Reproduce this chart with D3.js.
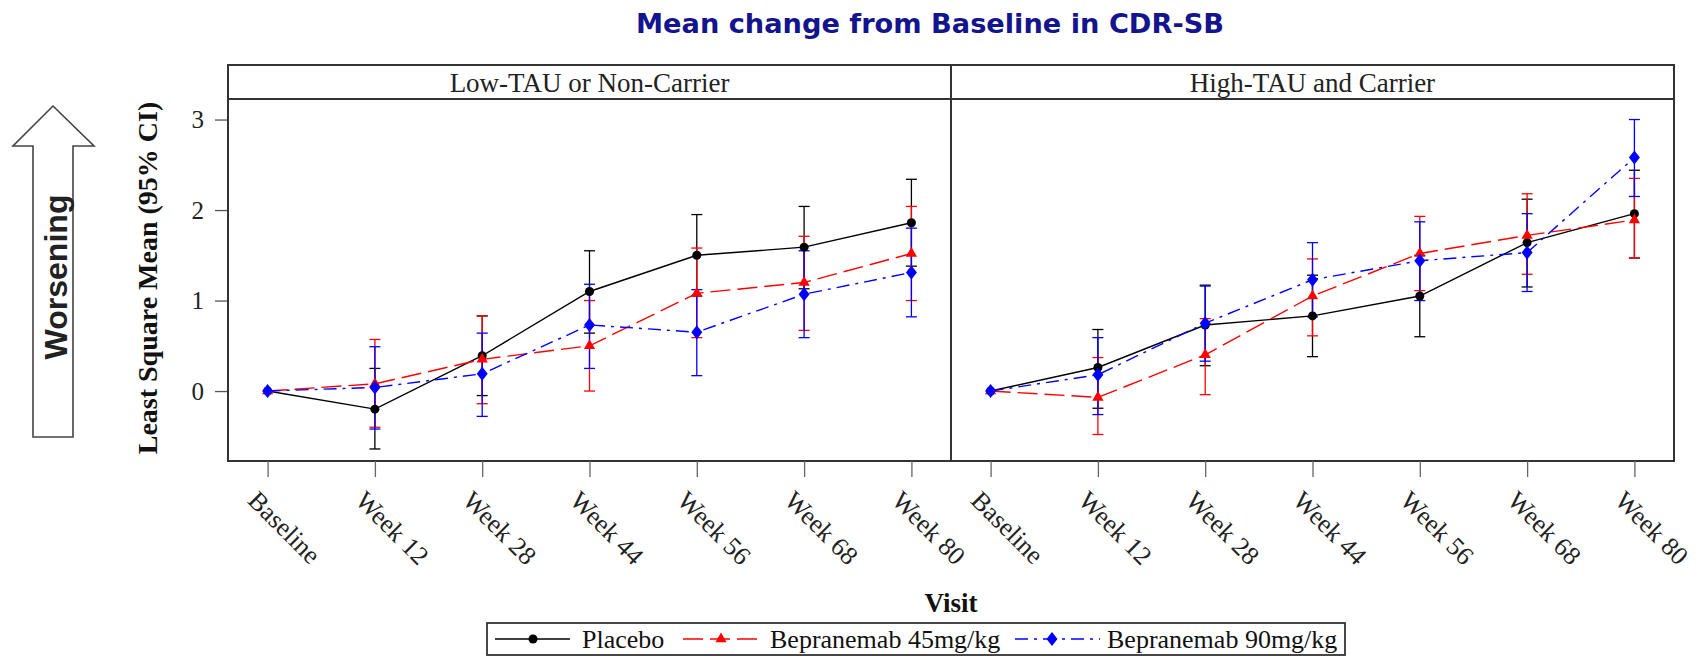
<!DOCTYPE html>
<html>
<head>
<meta charset="utf-8">
<script src="https://cdn.jsdelivr.net/npm/d3@7"></script>
<style>
  html, body { margin: 0; padding: 0; background: #fff; }
  svg { display: block; }
</style>
</head>
<body>
<svg id="chart" width="1701" height="660"></svg>
<script>
// ---------------- DATA ----------------
const visits = ["Baseline", "Week 12", "Week 28", "Week 44", "Week 56", "Week 68", "Week 80"];
const panelTitles = ["Low-TAU or Non-Carrier", "High-TAU and Carrier"];
const seriesNames = ["Placebo", "Bepranemab 45mg/kg", "Bepranemab 90mg/kg"];
const yTickValues = [0, 1, 2, 3];

// Panel 1: Low-TAU or Non-Carrier
const lowPlaceboMean = [0, -0.20, 0.39, 1.10, 1.50, 1.59, 1.86];
const lowPlaceboLo   = [0, -0.64, -0.05, 0.64, 1.05, 1.13, 1.38];
const lowPlaceboHi   = [0, 0.25, 0.83, 1.55, 1.95, 2.04, 2.34];
const low45Mean = [0, 0.08, 0.35, 0.50, 1.08, 1.20, 1.52];
const low45Lo   = [0, -0.40, -0.14, 0.00, 0.59, 0.67, 1.00];
const low45Hi   = [0, 0.57, 0.83, 1.00, 1.58, 1.71, 2.04];
const low90Mean = [0, 0.04, 0.19, 0.73, 0.65, 1.07, 1.31];
const low90Lo   = [0, -0.42, -0.28, 0.25, 0.17, 0.59, 0.82];
const low90Hi   = [0, 0.49, 0.64, 1.18, 1.12, 1.55, 1.80];

// Panel 2: High-TAU and Carrier
const highPlaceboMean = [0, 0.26, 0.73, 0.83, 1.05, 1.64, 1.96];
const highPlaceboLo   = [0, -0.19, 0.28, 0.38, 0.60, 1.15, 1.47];
const highPlaceboHi   = [0, 0.68, 1.17, 1.28, 1.50, 2.12, 2.44];
const high45Mean = [0, -0.07, 0.40, 1.05, 1.52, 1.72, 1.89];
const high45Lo   = [0, -0.48, -0.04, 0.61, 1.11, 1.29, 1.47];
const high45Hi   = [0, 0.37, 0.80, 1.46, 1.93, 2.18, 2.35];
const high90Mean = [0, 0.18, 0.75, 1.23, 1.44, 1.53, 2.58];
const high90Lo   = [0, -0.26, 0.33, 0.82, 1.00, 1.10, 2.15];
const high90Hi   = [0, 0.59, 1.16, 1.64, 1.87, 1.96, 3.00];

// ---------------- STYLE ----------------
const seriesStyle = [
  { color: "#000000", dash: null,        marker: "circle" },
  { color: "#ff0000", dash: "20,7",      marker: "triangle" },
  { color: "#0000ff", dash: "13,6,3,6",  marker: "diamond" }
];

const panelData = [
  [
    { mean: lowPlaceboMean, lo: lowPlaceboLo, hi: lowPlaceboHi },
    { mean: low45Mean, lo: low45Lo, hi: low45Hi },
    { mean: low90Mean, lo: low90Lo, hi: low90Hi }
  ],
  [
    { mean: highPlaceboMean, lo: highPlaceboLo, hi: highPlaceboHi },
    { mean: high45Mean, lo: high45Lo, hi: high45Hi },
    { mean: high90Mean, lo: high90Lo, hi: high90Hi }
  ]
];

const svg = d3.select("#chart");
const serif = "'Liberation Serif', 'Times New Roman', serif";

// layout
const plotLeft = 228, plotRight = 1674, divider = 951;
const stripTop = 65, plotTop = 99, plotBottom = 461;
const panelX = [[plotLeft, divider], [divider, plotRight]];

const y = d3.scaleLinear().domain([-0.773, 3.227]).range([plotBottom, plotTop]);

// Title
svg.append("text")
  .attr("x", 930).attr("y", 33)
  .attr("text-anchor", "middle")
  .attr("font-family", "'DejaVu Sans', Verdana, sans-serif")
  .attr("font-weight", "bold")
  .attr("font-size", 27)
  .attr("textLength", 588)
  .attr("lengthAdjust", "spacingAndGlyphs")
  .attr("fill", "#14148c")
  .text("Mean change from Baseline in CDR-SB");

// Worsening arrow
const arrowPts = [[53,106],[94,146],[73,146],[73,437],[33,437],[33,146],[13,146]];
svg.append("polygon")
  .attr("points", arrowPts.map(p => p.join(",")).join(" "))
  .attr("fill", "#fff").attr("stroke", "#444").attr("stroke-width", 1.6);
svg.append("text")
  .attr("transform", "translate(67,277) rotate(-90)")
  .attr("text-anchor", "middle")
  .attr("font-family", "'Liberation Sans', Arial, sans-serif")
  .attr("font-weight", "bold")
  .attr("font-size", 32)
  .attr("textLength", 165)
  .attr("lengthAdjust", "spacingAndGlyphs")
  .attr("fill", "#222")
  .text("Worsening");

// Y label
svg.append("text")
  .attr("transform", "translate(157,278) rotate(-90)")
  .attr("text-anchor", "middle")
  .attr("font-family", serif)
  .attr("font-weight", "bold")
  .attr("font-size", 28)
  .attr("fill", "#111")
  .text("Least Square Mean (95% CI)");

// Y axis
const yAxis = d3.axisLeft(y).tickValues(yTickValues).tickSize(13).tickPadding(11).tickFormat(d3.format("d"));
const yg = svg.append("g").attr("transform", `translate(${plotLeft},0)`).call(yAxis);
yg.select(".domain").remove();
yg.selectAll(".tick line").attr("stroke", "#555").attr("stroke-width", 1.3);
yg.selectAll(".tick text").attr("font-family", serif).attr("font-size", 25).attr("fill", "#222");

// Panels
panelTitles.forEach((title, pi) => {
  const [x0, x1] = panelX[pi];
  const x = d3.scalePoint().domain(visits).range([x0, x1]).padding(0.369);

  // strip
  svg.append("rect").attr("x", x0).attr("y", stripTop).attr("width", x1 - x0).attr("height", plotTop - stripTop)
    .attr("fill", "#fff").attr("stroke", "#333").attr("stroke-width", 2);
  svg.append("text")
    .attr("x", (x0 + x1) / 2).attr("y", 92)
    .attr("text-anchor", "middle")
    .attr("font-family", serif).attr("font-size", 27).attr("fill", "#222")
    .text(title);

  // plot frame
  svg.append("rect").attr("x", x0).attr("y", plotTop).attr("width", x1 - x0).attr("height", plotBottom - plotTop)
    .attr("fill", "none").attr("stroke", "#333").attr("stroke-width", 2);

  // x axis
  const xAxis = d3.axisBottom(x).tickSize(16).tickFormat("");
  const xg = svg.append("g").attr("transform", `translate(0,${plotBottom})`).call(xAxis);
  xg.select(".domain").remove();
  xg.selectAll(".tick line").attr("stroke", "#666").attr("stroke-width", 1.3);
  svg.append("g").selectAll("text").data(visits).join("text")
    .attr("transform", d => `translate(${x(d) - 21},502) rotate(45)`)
    .attr("font-family", serif).attr("font-size", 26).attr("fill", "#222")
    .text(d => d);

  const g = svg.append("g");
  const series = panelData[pi];

  // error bars
  series.forEach((s, si) => {
    const st = seriesStyle[si];
    const rows = visits.map((v, i) => ({ v, lo: s.lo[i], hi: s.hi[i] })).filter(r => r.hi > r.lo);
    const eb = g.append("g").attr("stroke", st.color).attr("stroke-width", 1.3).attr("fill", "none");
    eb.selectAll("line.v").data(rows).join("line").attr("class", "v")
      .attr("x1", r => x(r.v)).attr("x2", r => x(r.v)).attr("y1", r => y(r.lo)).attr("y2", r => y(r.hi));
    eb.selectAll("line.t").data(rows).join("line").attr("class", "t")
      .attr("x1", r => x(r.v) - 5.5).attr("x2", r => x(r.v) + 5.5).attr("y1", r => y(r.hi)).attr("y2", r => y(r.hi));
    eb.selectAll("line.b").data(rows).join("line").attr("class", "b")
      .attr("x1", r => x(r.v) - 5.5).attr("x2", r => x(r.v) + 5.5).attr("y1", r => y(r.lo)).attr("y2", r => y(r.lo));
  });

  // lines
  series.forEach((s, si) => {
    const st = seriesStyle[si];
    const line = d3.line().x((d, i) => x(visits[i])).y(d => y(d));
    g.append("path").datum(s.mean).attr("d", line)
      .attr("fill", "none").attr("stroke", st.color).attr("stroke-width", 1.4)
      .attr("stroke-dasharray", st.dash);
  });

  // markers
  series.forEach((s, si) => {
    const st = seriesStyle[si];
    drawMarkers(g, st, s.mean.map((m, i) => [x(visits[i]), y(m)]));
  });
});

function markerPath(type) {
  if (type === "circle") return d3.symbol(d3.symbolCircle, 64)();
  if (type === "triangle") return d3.symbol(d3.symbolTriangle, 55)();
  return "M0,-7L5.5,0L0,7L-5.5,0Z";
}
function drawMarkers(g, st, pts) {
  g.append("g").selectAll("path").data(pts).join("path")
    .attr("transform", p => `translate(${p[0]},${p[1]})`)
    .attr("d", markerPath(st.marker))
    .attr("fill", st.color);
}

// Visit label
svg.append("text")
  .attr("x", 951).attr("y", 612)
  .attr("text-anchor", "middle")
  .attr("font-family", serif).attr("font-weight", "bold").attr("font-size", 27).attr("fill", "#111")
  .text("Visit");

// Legend
const lgTop = 623, lgBottom = 655, lgMid = 639;
svg.append("rect").attr("x", 487).attr("y", lgTop).attr("width", 858).attr("height", lgBottom - lgTop)
  .attr("fill", "#fff").attr("stroke", "#333").attr("stroke-width", 1.8);
const legendItems = [
  { x1: 495, x2: 570, mx: 533, tx: 582 },
  { x1: 683, x2: 760, mx: 721, tx: 770 },
  { x1: 1015, x2: 1100, mx: 1052, tx: 1107 }
];
seriesNames.forEach((name, si) => {
  const it = legendItems[si];
  const st = seriesStyle[si];
  svg.append("line").attr("x1", it.x1).attr("x2", it.x2).attr("y1", lgMid).attr("y2", lgMid)
    .attr("stroke", st.color).attr("stroke-width", 1.4).attr("stroke-dasharray", st.dash);
  drawMarkers(svg, st, [[it.mx, lgMid]]);
  svg.append("text").attr("x", it.tx).attr("y", lgMid + 9)
    .attr("font-family", serif).attr("font-size", 26).attr("fill", "#111")
    .text(name);
});
</script>
</body>
</html>
